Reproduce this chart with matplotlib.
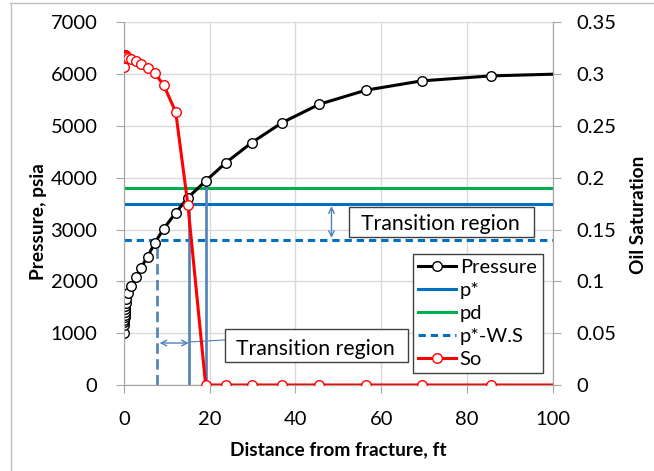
import matplotlib
matplotlib.use("Agg")
import matplotlib.pyplot as plt
from matplotlib.lines import Line2D
from matplotlib.patches import Rectangle

plt.rcParams['font.family'] = ['Lato', 'DejaVu Sans']

# distance from fracture, ft (shared grid for both profiles)
dist = [0, 0.03, 0.06, 0.09, 0.12, 0.16, 0.2, 0.25, 0.3, 0.37, 0.47, 1.0, 1.7,
        2.8, 3.9, 5.5, 7.2, 9.3, 12.06, 14.9, 19.05, 23.8, 29.8, 36.9, 45.6,
        56.4, 69.4, 85.5, 100]
pressure = [1000, 1160, 1210, 1260, 1310, 1360, 1410, 1470, 1530, 1590, 1654,
            1782, 1917, 2091, 2259, 2477, 2745, 3020, 3323, 3615, 3938, 4292,
            4678, 5064, 5419, 5689, 5869, 5965, 5998]
so = [0.307, 0.316, 0.317, 0.3175, 0.318, 0.318, 0.318, 0.3178, 0.3175, 0.317,
      0.3165, 0.316, 0.315, 0.3125, 0.3095, 0.3063, 0.3008, 0.289, 0.2635,
      0.174, 0, 0, 0, 0, 0, 0, 0, 0, 0]

p_star = 3500
p_d = 3800
p_star_ws = 2800
x_pstar = 15.2      # where So crosses p*
x_front = 19.05     # saturation front
x_ws = 7.8          # pressure reaches p*-W.S

BLUE = '#0070C0'
GREEN = '#00B050'
STEEL = '#4F81BD'
GRID = '#D9D9D9'
AXC = '#A6A6A6'
FS = 14.5

fig = plt.figure(figsize=(6.54, 4.71), dpi=100)
ax = fig.add_axes([0.1896, 0.1826, 0.6555, 0.7701])
ax2 = ax.twinx()

ax.set_xlim(0, 100)
ax.set_ylim(0, 7000)
ax2.set_ylim(0, 0.35)
ax.set_xticks(range(0, 101, 20))
ax.set_yticks(range(0, 7001, 1000))
ax2.set_yticks([0, 0.05, 0.1, 0.15, 0.2, 0.25, 0.3, 0.35])
ax2.set_yticklabels(['0', '0.05', '0.1', '0.15', '0.2', '0.25', '0.3', '0.35'])

ax.grid(True, color=GRID, lw=1)
ax.set_axisbelow(True)
for a in (ax, ax2):
    a.spines['top'].set_visible(False)
    for s in ('left', 'right', 'bottom'):
        a.spines[s].set_color(AXC)
    a.tick_params(colors=AXC, labelcolor='black', labelsize=FS, length=6)
ax.tick_params(axis='y', pad=13)
ax.tick_params(axis='x', pad=13)
ax2.tick_params(axis='y', pad=11)

# horizontal pressure levels
ax.axhline(p_d, color=GREEN, lw=2.2, label='pd', zorder=2)
ax.axhline(p_star, color=BLUE, lw=2.2, label='p*', zorder=2)
ax.axhline(p_star_ws, color=BLUE, lw=2.2, ls=(0, (2.4, 1.6)), label='p*-W.S', zorder=2)

# vertical markers of the transition zone
ax.plot([x_pstar, x_pstar], [0, p_star], color=STEEL, lw=1.9, zorder=2)
ax.plot([x_front, x_front], [0, pressure[dist.index(x_front)]], color=STEEL, lw=1.9, zorder=2)
ax.plot([x_ws, x_ws], [0, p_star_ws], color=STEEL, lw=1.9, ls=(0, (4, 2)), zorder=2)

ax.plot(dist, pressure, color='black', lw=2.2, marker='o', ms=6.9, mfc='white',
        mec='black', mew=1, markevery=list(range(len(dist) - 1)), label='Pressure', zorder=3)
ax2.plot(dist, so, color='red', lw=2.2, marker='o', ms=6.9, mfc='white',
         mec='red', mew=1, markevery=list(range(len(dist) - 1)), label='So', zorder=3)

# transition region callouts
arrow = dict(arrowstyle='<->', color=STEEL, lw=1, shrinkA=0, shrinkB=0)
ax.annotate('', xy=(8.3, 810), xytext=(15.1, 810), arrowprops=arrow)
ax.plot([15.2, 23.6], [830, 870], color=STEEL, lw=0.8)
ax.annotate('', xy=(48.4, 2840), xytext=(48.4, 3450), arrowprops=arrow)

for x0, x1, y0, y1 in [(23.6, 66.3, 437, 1073), (52.6, 95.7, 2851, 3442)]:
    ax.add_patch(Rectangle((x0, y0), x1 - x0, y1 - y0, facecolor='white',
                           edgecolor='#404040', lw=1, zorder=4))
    ax.text(x0 + 2.6, y0 + (y1 - y0) * 0.42, 'Transition region', fontsize=15.3,
            ha='left', va='center', zorder=5)

ax.set_xlabel('Distance from fracture, ft', fontsize=13.8, fontweight='bold')
ax.set_ylabel('Pressure, psia', fontsize=13.8, fontweight='bold')
ax2.set_ylabel('Oil Saturation', fontsize=13.8, fontweight='bold')
ax.xaxis.set_label_coords(0.5, -0.155)
ax.yaxis.set_label_coords(-0.18, 0.45)
ax2.yaxis.set_label_coords(1.18, 0.47)

h1, l1 = ax.get_legend_handles_labels()
h2, l2 = ax2.get_legend_handles_labels()
order = ['Pressure', 'p*', 'pd', 'p*-W.S', 'So']
hl = dict(zip(l1 + l2, h1 + h2))
leg = ax2.legend([hl[k] for k in order], order, loc='lower left',
                 bbox_to_anchor=(0.675, 0.032, 0.302, 0.336), mode='expand',
                 fontsize=FS, handlelength=1.85, handletextpad=0.2,
                 labelspacing=0.3, borderpad=0.25, fancybox=False, framealpha=1,
                 edgecolor='#404040', borderaxespad=0)
leg.get_frame().set_linewidth(1)

# chart area border
fig.add_artist(Line2D([10.5 / 654, 10.5 / 654], [0, 1 - 3 / 471], color='#BFBFBF', lw=1))
fig.add_artist(Line2D([10 / 654, 1], [1 - 3 / 471, 1 - 3 / 471], color='#BFBFBF', lw=1))

fig.savefig('out.png', dpi=100)
